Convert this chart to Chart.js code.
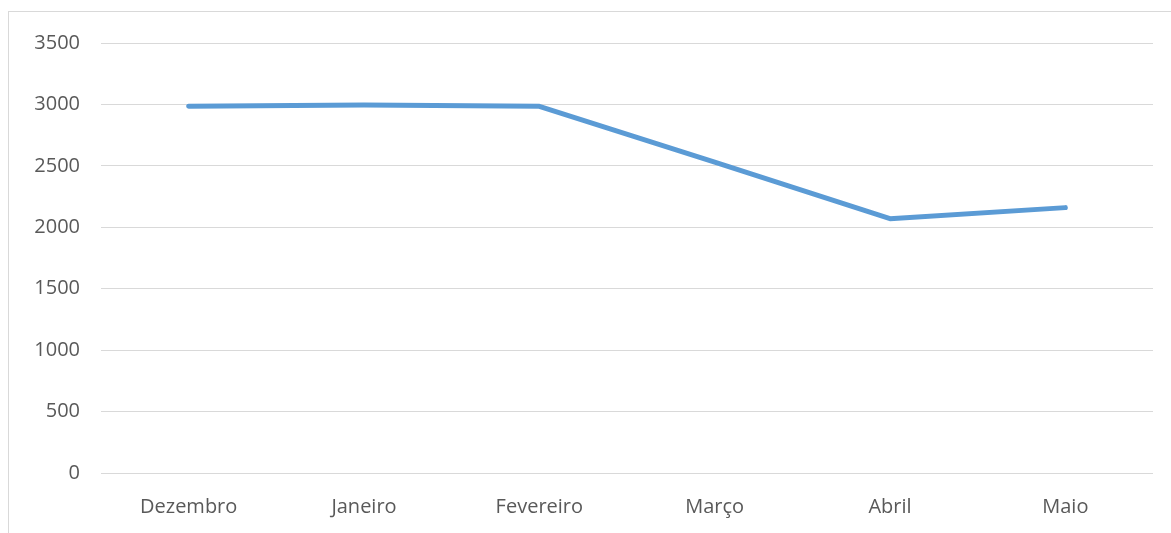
<!DOCTYPE html>
<html>
<head>
<meta charset="utf-8">
<script src="https://cdn.jsdelivr.net/npm/chart.js@4.4.1/dist/chart.umd.min.js"></script>
<style>
  html, body { margin: 0; padding: 0; background: #fff; overflow: hidden; }
  #frame { position: absolute; left: 8px; top: 11px; width: 1300px; height: 700px; border: 1px solid #d9d9d9; }
  #wrap { position: absolute; left: 0; top: 0; width: 1171px; height: 533px; }
</style>
</head>
<body>
<div id="frame"></div>
<div id="wrap"><canvas id="my-chart"></canvas></div>
<script>
'use strict';

// ********** DATA *******************
let months = ['Dezembro', 'Janeiro', 'Fevereiro', 'Março', 'Abril', 'Maio'];
let totals = [2985, 2995, 2985, 2530, 2070, 2160];
let yTicks = [0, 500, 1000, 1500, 2000, 2500, 3000, 3500];

let ctx = document.getElementById('my-chart').getContext('2d');

Chart.defaults.font.family = '"Open Sans", sans-serif';
Chart.defaults.font.size = 20;
Chart.defaults.color = '#595959';

let myChartObj = {
  type: 'line',
  data: {
    labels: months,
    datasets: [{
      data: totals,
      borderColor: '#5b9bd5',
      borderWidth: 5,
      borderCapStyle: 'round',
      borderJoinStyle: 'round',
      pointRadius: 0,
      tension: 0,
      fill: false
    }]
  },
  options: {
    responsive: true,
    maintainAspectRatio: false,
    animation: false,
    layout: { padding: { top: 43, right: 18, left: 0, bottom: 0 } },
    plugins: { legend: { display: false }, tooltip: { enabled: false } },
    scales: {
      x: {
        offset: true,
        grid: { display: false },
        border: { display: false },
        ticks: { padding: 14, maxRotation: 0 },
        afterFit: function(axis) { axis.height = 60; }
      },
      y: {
        min: 0,
        max: 3500,
        afterBuildTicks: function(axis) { axis.ticks = yTicks.map(v => ({ value: v })); },
        grid: { color: '#d9d9d9', lineWidth: 1, drawTicks: false },
        border: { display: false },
        ticks: { padding: 21, callback: function(value) { return String(value); } },
        afterFit: function(axis) { axis.width = 101; }
      }
    }
  }
};

new Chart(ctx, myChartObj);
</script>
</body>
</html>
